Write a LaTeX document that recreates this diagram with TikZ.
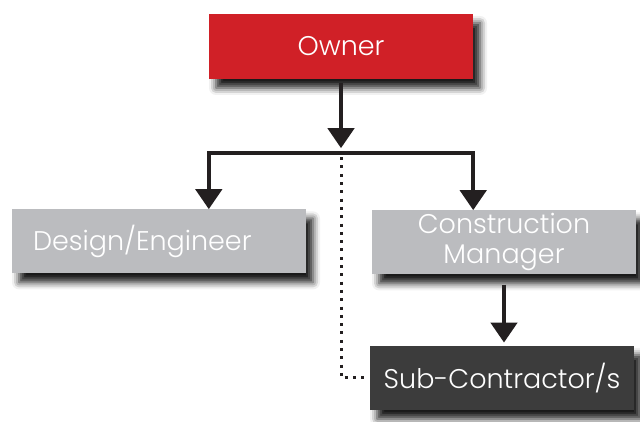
\documentclass[tikz,border=0pt]{standalone}
\usepackage{fontspec}
\setmainfont{Poppins}[UprightFont=* Light]
\usetikzlibrary{arrows.meta,positioning,shadows.blur}
\definecolor{ownerred}{HTML}{D02027}
\definecolor{unitgrey}{HTML}{BBBCBF}
\definecolor{subdark}{HTML}{3C3C3C}
\definecolor{linkblack}{HTML}{231F20}

\begin{document}
\begin{tikzpicture}[x=1pt,y=1pt]
\tikzset{unit/.style={minimum height=64pt, text=white, inner xsep=0pt, inner ysep=0pt,
    align=center, text width=264pt, font=\fontsize{27}{30}\selectfont,
    blur shadow={shadow xshift=7pt, shadow yshift=-9pt, shadow blur radius=7pt, shadow opacity=90}}}
\tikzset{link/.style={draw=linkblack, line width=4.5pt,
    -{Triangle[width=26pt,length=20pt]}}}
 \useasboundingbox (0,0) rectangle (640,422);
  \node[unit, fill=ownerred, minimum height=65pt] (owner) at (341,375.5) {Owner};
  \node[unit, fill=unitgrey, below=130pt of owner, xshift=-182pt,
        text width=252pt, inner xsep=21pt, align=left] (design) {Design/Engineer};
  \node[unit, fill=unitgrey, below=131pt of owner, xshift=163pt] (manager) {Construction\\Manager};
  \node[unit, fill=subdark, below=71pt of manager, xshift=-2pt] (sub) {Sub-Contractor/s};
  \coordinate[below=69pt of owner] (hub);
\draw[link, shorten <=4pt] (owner) -- (hub);
\draw[draw=linkblack, line width=4pt, line cap=rect] (owner.west |- hub) ++(0,-5) coordinate (left)
  -- (owner.east |- left) coordinate (right);
\draw[link] (left) -- (left |- design.north);
\draw[link] (right) -- (right |- manager.north);
\draw[link, shorten <=10pt, shorten >=3pt] (manager.south) -- (manager.south |- sub.north);
\draw[draw=linkblack, line width=3pt, dash pattern=on 3pt off 5.3pt, shorten >=5pt]
  ([yshift=-9pt]hub) |- (sub.west);
\end{tikzpicture}
\end{document}
